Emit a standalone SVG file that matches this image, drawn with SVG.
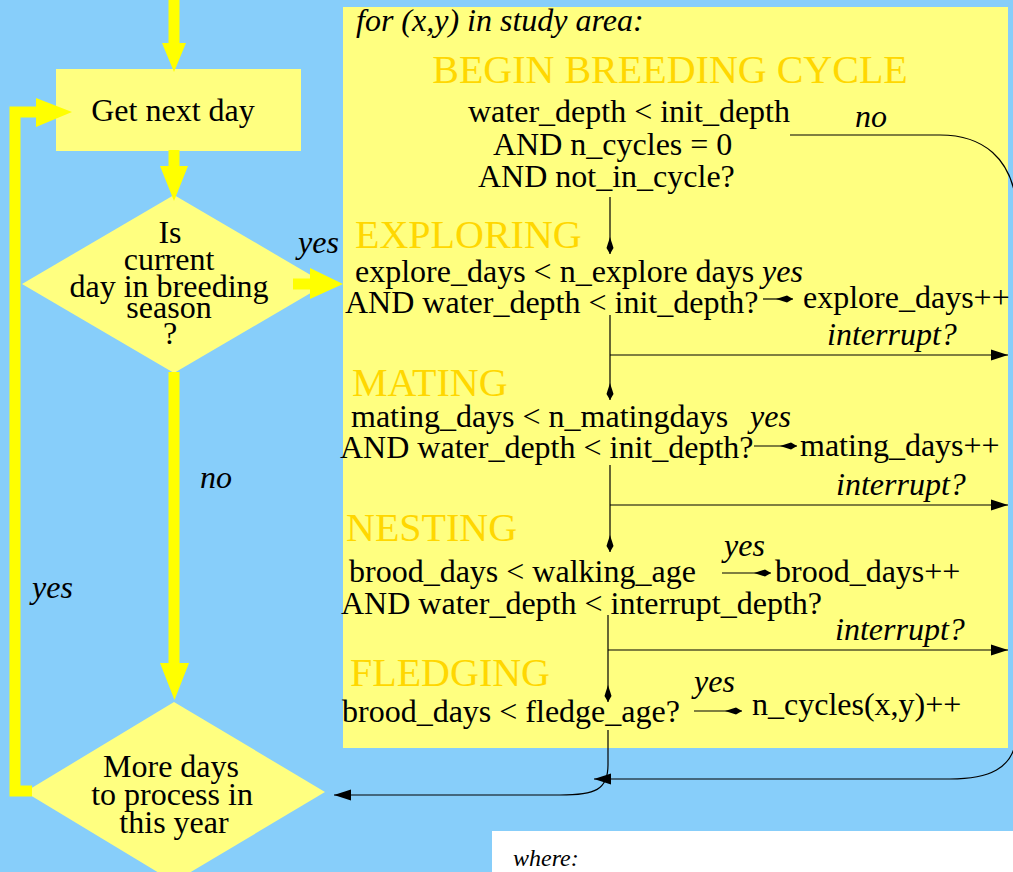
<svg xmlns="http://www.w3.org/2000/svg" width="1013" height="872" viewBox="0 0 1013 872">
<defs>
<style>
.t{font-family:"Liberation Serif","Times New Roman",serif;font-size:32px;fill:#000}
.i{font-style:italic}
.c{text-anchor:middle}
.gold{font-size:40px;fill:#ffd700}
.node{fill:#ffff80}
.flow{fill:none;stroke:#ffff00;stroke-width:11}
.head{fill:#ffff00}
.ln{fill:none;stroke:#000;stroke-width:1.2}
.k{marker-end:url(#kite)}
.a{marker-end:url(#tri)}
</style>
<marker id="kite" viewBox="0 0 20 10" markerWidth="20" markerHeight="10" refX="18" refY="5" orient="auto" markerUnits="userSpaceOnUse"><path d="M18,5 L12,1.5 L1,5 L12,8.5 Z" fill="#000"/></marker>
<marker id="tri" viewBox="0 0 18 12" markerWidth="18" markerHeight="12" refX="17" refY="6" orient="auto" markerUnits="userSpaceOnUse"><path d="M17,6 L0,0.5 L0,11.5 Z" fill="#000"/></marker>
</defs>
<rect width="1013" height="872" fill="#87cefa"/>

<g id="study-area">
<rect x="343" y="7" width="665" height="741" class="node"/>
<text class="t i" x="356" y="31">for (x,y) in study area:</text>
</g>
<g id="where-box">
<rect x="492" y="831" width="521" height="41" fill="#fff"/>
<text class="t i" x="513" y="866" font-size="24" style="font-size:24px">where:</text>
</g>

<g id="get-next-day">
<rect x="56" y="69" width="245" height="82" class="node"/>
<text class="t c" x="173" y="121">Get next day</text>
</g>

<g id="breeding-season">
<polygon points="174,195 326,284 174,373 22,284" class="node"/>
<text class="t c" x="170" y="243">Is</text>
<text class="t c" x="169" y="270">current</text>
<text class="t c" x="169" y="297">day in breeding</text>
<text class="t c" x="169" y="318">season</text>
<text class="t c" x="170" y="344">?</text>
</g>

<g id="more-days">
<polygon points="174,702 325,792 174,882 25,792" class="node"/>
<text class="t c" x="171" y="777">More days</text>
<text class="t c" x="172" y="805">to process in</text>
<text class="t c" x="174" y="833">this year</text>
</g>

<g id="begin-cycle">
<text class="t gold c" x="670" y="83">BEGIN BREEDING CYCLE</text>
<text class="t" x="468" y="122">water_depth &lt; init_depth</text>
<text class="t" x="493" y="155">AND n_cycles = 0</text>
<text class="t" x="478" y="187">AND not_in_cycle?</text>
</g>

<g id="exploring">
<text class="t gold" x="355" y="248">EXPLORING</text>
<text class="t" x="355" y="282">explore_days &lt; n_explore days</text>
<text class="t" x="345" y="313">AND water_depth &lt; init_depth?</text>
<text class="t" x="803" y="308">explore_days++</text>
</g>

<g id="mating">
<text class="t gold" x="352" y="396">MATING</text>
<text class="t" x="351" y="427">mating_days &lt; n_matingdays</text>
<text class="t" x="340" y="458">AND water_depth &lt; init_depth?</text>
<text class="t" x="800" y="456">mating_days++</text>
</g>

<g id="nesting">
<text class="t gold" x="346" y="541">NESTING</text>
<text class="t" x="349" y="582">brood_days &lt; walking_age</text>
<text class="t" x="341" y="614">AND water_depth &lt; interrupt_depth?</text>
<text class="t" x="775" y="582">brood_days++</text>
</g>

<g id="fledging">
<text class="t gold" x="350" y="686">FLEDGING</text>
<text class="t" x="342" y="722">brood_days &lt; fledge_age?</text>
<text class="t" x="752" y="715">n_cycles(x,y)++</text>
</g>

<g id="connectors">
<path class="flow" d="M174,0 V44"/>
<polygon class="head" points="162,43 186,43 174,72"/>
<path class="flow" d="M174,150 V167"/>
<polygon class="head" points="160,166 188,166 174,201"/>
<path class="flow" d="M293,284 H311"/>
<polygon class="head" points="310,268 310,299 343,284"/>
<path class="flow" d="M174,372 V664"/>
<polygon class="head" points="160,663 189,663 174.5,700"/>
<path class="flow" d="M32,791 H15 V112 H37"/>
<polygon class="head" points="36,98 36,127 72,112"/>

<path class="ln k" d="M610,197 V254"/>
<path class="ln k" d="M610,315 V400"/>
<path class="ln a" d="M610,355 H1008"/>
<path class="ln k" d="M610,465 V552"/>
<path class="ln a" d="M610,505 H1008"/>
<path class="ln k" d="M608,615 V702"/>
<path class="ln a" d="M608,650 H1008"/>
<path class="ln a" d="M608,730 V765 C608,790 595,795 560,795 L334,795"/>
<path class="ln k" d="M763,299 H793"/>
<path class="ln k" d="M754,446 H797"/>
<path class="ln k" d="M722,573 H771"/>
<path class="ln k" d="M694,711 H742"/>
<path class="ln a" d="M790,135 H940 C985,135 1010,160 1016,200 V740 C1012,768 990,779 950,779 L594,779"/>

<text class="t i" x="298" y="253">yes</text>
<text class="t i" x="200" y="488">no</text>
<text class="t i" x="32" y="598">yes</text>
<text class="t i" x="855" y="127">no</text>
<text class="t i" x="762" y="282">yes</text>
<text class="t i" x="827" y="345">interrupt?</text>
<text class="t i" x="750" y="427">yes</text>
<text class="t i" x="836" y="495">interrupt?</text>
<text class="t i" x="724" y="556">yes</text>
<text class="t i" x="835" y="640">interrupt?</text>
<text class="t i" x="694" y="692">yes</text>
</g>
</svg>
